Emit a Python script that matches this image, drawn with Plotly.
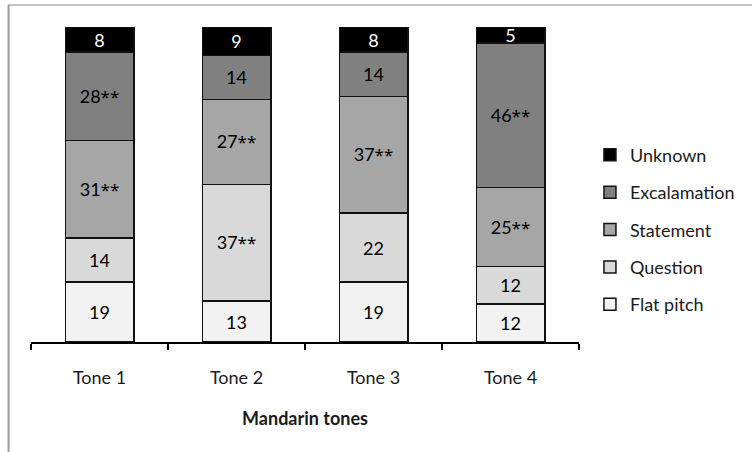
import plotly.graph_objects as go

categories = ["Tone 1", "Tone 2", "Tone 3", "Tone 4"]
series_names = ["Flat pitch", "Question", "Statement", "Excalamation", "Unknown"]
flat_pitch = [19, 13, 19, 12]
question = [14, 37, 22, 12]
statement = [31, 27, 37, 25]
exclamation = [28, 14, 14, 46]
unknown = [8, 9, 8, 5]
# significance markers (** shown after value)
sig_flat = [False, False, False, False]
sig_question = [False, True, False, False]
sig_statement = [True, True, True, True]
sig_exclamation = [True, False, False, True]
sig_unknown = [False, False, False, False]

values = [flat_pitch, question, statement, exclamation, unknown]
sigs = [sig_flat, sig_question, sig_statement, sig_exclamation, sig_unknown]
colors = ["#f2f2f2", "#d9d9d9", "#a6a6a6", "#808080", "#000000"]
text_colors = ["#000000", "#000000", "#000000", "#000000", "#ffffff"]

FONT = "Lato"
FS = 18
STAR = '<span style="font-family:Noto Sans;font-size:17px">**</span>'

fig = go.Figure()
n = len(series_names)
for i, (name, vals, sg, col, tcol) in enumerate(zip(series_names, values, sigs, colors, text_colors)):
    labels = [f"{v}{STAR}" if s else f"{v}" for v, s in zip(vals, sg)]
    fig.add_trace(go.Bar(
        x=categories, y=vals, name=name,
        marker=dict(color=col, line=dict(color="#111111", width=1.5)),
        text=labels, textposition="inside", insidetextanchor="middle",
        textangle=0, constraintext="none",
        textfont=dict(family=FONT, size=FS, color=tcol),
        legendgroup=name, legendrank=n - i,
        hoverinfo="skip",
    ))

fig.update_layout(
    barmode="stack",
    bargap=0.5,
    width=752, height=452,
    margin=dict(l=31, r=173, t=27, b=110, autoexpand=False),
    paper_bgcolor="white", plot_bgcolor="white",
    font=dict(family=FONT, size=FS, color="#1a1a1a"),
    uniformtext=dict(minsize=FS, mode="show"),
    showlegend=True,
    legend=dict(
        traceorder="grouped", tracegroupgap=11,
        x=1.02, xanchor="left", y=0.357, yanchor="middle",
        font=dict(family=FONT, size=FS, color="#1a1a1a"),
        itemwidth=30,
    ),
    xaxis=dict(
        automargin=False,
        showline=True, linecolor="#000000", linewidth=2,
        ticks="outside", ticklen=6, tickwidth=1.5, tickcolor="#000000",
        tickson="boundaries", ticklabelstandoff=18,
        tickfont=dict(family=FONT, size=FS, color="#1a1a1a"),
        title=dict(text="<b>Mandarin tones</b>", font=dict(family=FONT, size=FS, color="#1a1a1a"), standoff=26),
    ),
    yaxis=dict(range=[0, 100], visible=False),
    shapes=[
        dict(type="line", xref="paper", yref="paper", x0=-0.042, x1=1.4, y0=1.0698, y1=1.0698,
             line=dict(color="#c4c4c4", width=2)),
        dict(type="line", xref="paper", yref="paper", x0=-0.041, x1=-0.041, y0=1.0698, y1=-0.4,
             line=dict(color="#9a9a9a", width=2)),
    ],
)

fig.write_html("out.html", config={"displayModeBar": False},
               post_script="document.body.style.margin='0';")
